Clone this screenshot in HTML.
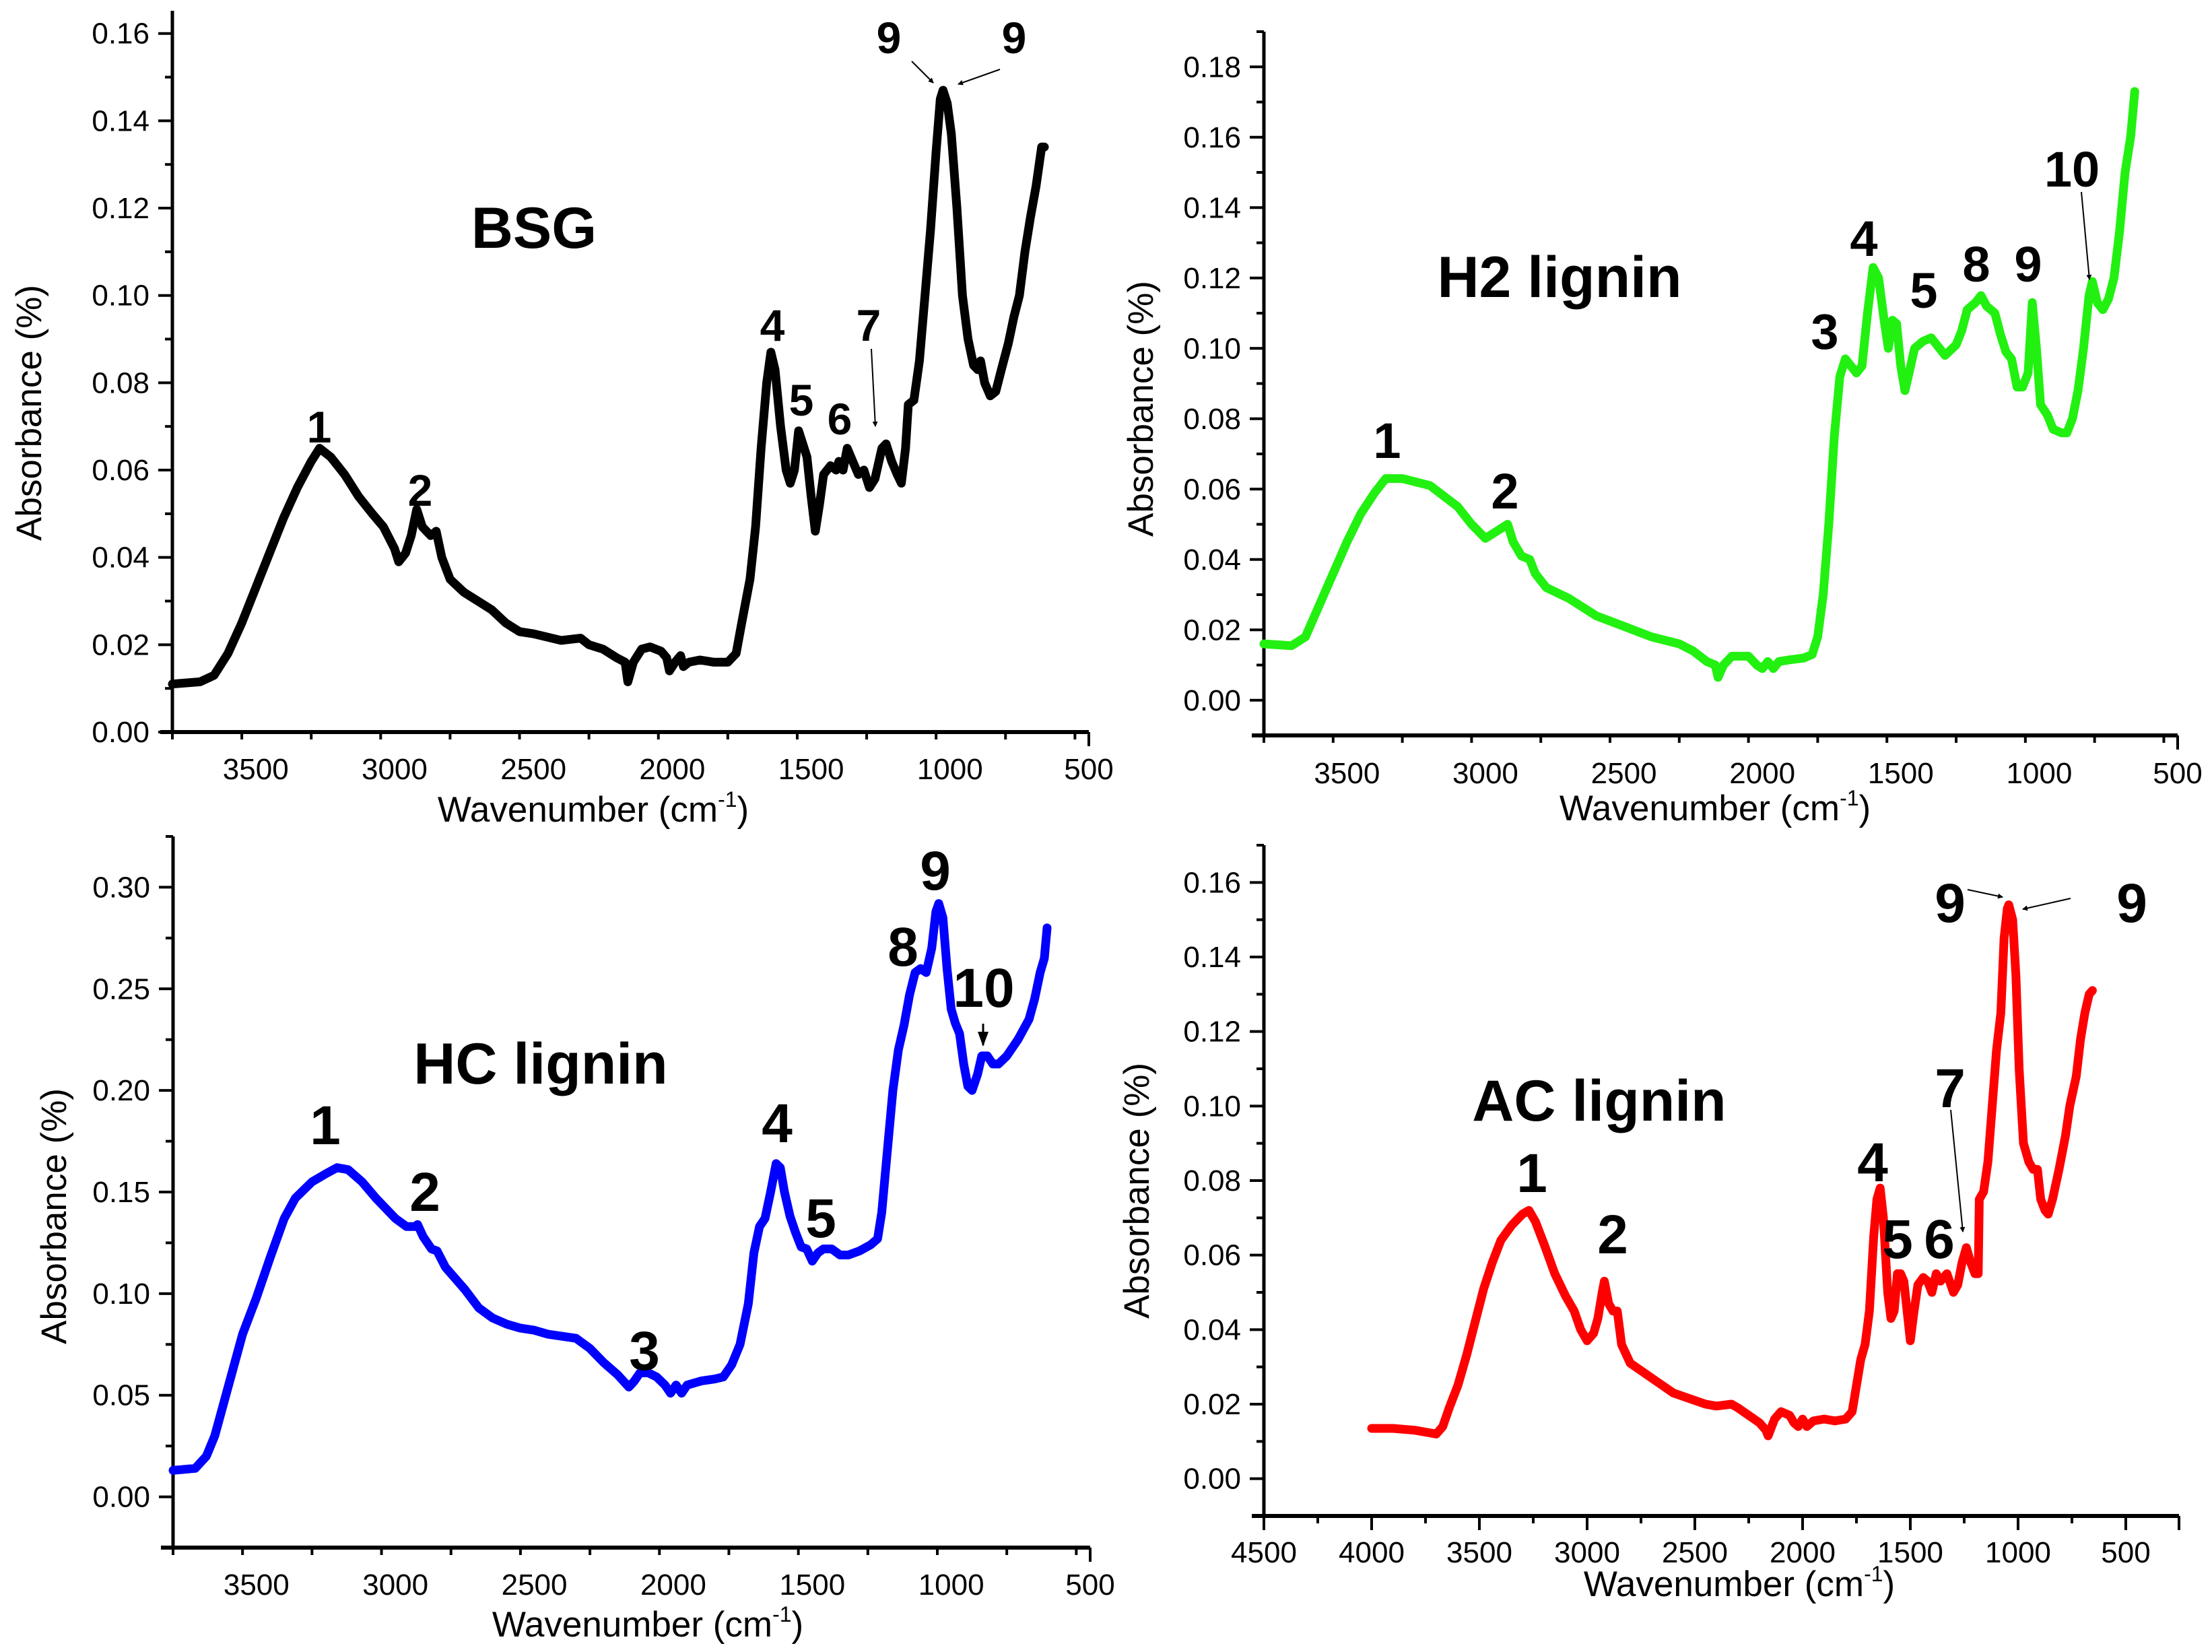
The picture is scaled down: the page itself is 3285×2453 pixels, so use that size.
<!DOCTYPE html>
<html><head><meta charset="utf-8"><style>
html,body{margin:0;padding:0;background:#fff;}
svg{display:block;font-family:"Liberation Sans",Arial,sans-serif;}
</style></head><body>
<svg id="fig" width="3285" height="2453" viewBox="0 0 3285 2453" xmlns="http://www.w3.org/2000/svg">
<defs><marker id="ah" markerWidth="8" markerHeight="8" refX="7" refY="4" orient="auto" markerUnits="userSpaceOnUse"><path d="M0,0 L8,4 L0,8 z" fill="#000"/></marker>
<marker id="ahb" markerWidth="22" markerHeight="16" refX="20" refY="8" orient="auto" markerUnits="userSpaceOnUse"><path d="M0,0 L22,8 L0,16 z" fill="#000"/></marker></defs>
</svg>
<script>
// ---- data (wavenumber cm-1, absorbance) ----
const bsgWavenumber=[3800,3700,3650,3600,3550,3500,3450,3400,3350,3300,3270,3230,3180,3130,3080,3040,3000,2985,2960,2940,2920,2900,2870,2850,2830,2800,2750,2700,2650,2600,2550,2500,2400,2330,2300,2250,2200,2170,2160,2140,2110,2080,2040,2020,2010,1990,1970,1960,1940,1900,1850,1800,1770,1750,1720,1700,1680,1660,1645,1630,1610,1590,1575,1560,1545,1530,1515,1500,1485,1470,1455,1430,1410,1400,1385,1370,1350,1330,1310,1290,1270,1245,1230,1210,1190,1175,1160,1150,1130,1110,1090,1070,1050,1035,1025,1010,995,975,955,935,915,900,890,875,855,835,815,790,770,750,730,710,690,670,660];
const bsgAbsorbance=[0.011,0.0115,0.013,0.018,0.025,0.033,0.041,0.049,0.056,0.062,0.065,0.063,0.059,0.054,0.050,0.047,0.042,0.039,0.041,0.045,0.051,0.047,0.045,0.046,0.040,0.035,0.032,0.030,0.028,0.025,0.023,0.0225,0.021,0.0215,0.020,0.019,0.017,0.016,0.0115,0.016,0.019,0.0195,0.0185,0.017,0.014,0.016,0.0175,0.015,0.016,0.0165,0.016,0.016,0.018,0.025,0.035,0.047,0.065,0.080,0.087,0.083,0.070,0.060,0.057,0.060,0.069,0.066,0.063,0.054,0.046,0.052,0.059,0.061,0.060,0.062,0.060,0.065,0.062,0.059,0.060,0.056,0.058,0.065,0.066,0.062,0.059,0.057,0.065,0.075,0.076,0.085,0.100,0.115,0.133,0.145,0.147,0.144,0.137,0.120,0.100,0.090,0.084,0.083,0.085,0.080,0.077,0.078,0.083,0.089,0.095,0.100,0.110,0.118,0.125,0.134,0.134];

const h2Wavenumber=[3800,3700,3650,3600,3550,3500,3450,3400,3360,3300,3250,3200,3150,3100,3050,3000,2960,2920,2900,2870,2840,2820,2780,2700,2600,2500,2400,2300,2250,2200,2170,2160,2140,2110,2050,2020,2000,1980,1960,1940,1900,1850,1820,1800,1780,1760,1740,1720,1700,1680,1660,1640,1620,1600,1580,1560,1545,1530,1515,1500,1485,1470,1450,1420,1390,1370,1340,1300,1280,1260,1230,1210,1190,1160,1140,1120,1100,1080,1060,1040,1025,1010,995,970,950,920,900,880,860,840,820,808,790,770,750,730,710,690,670,655];
const h2Absorbance=[0.016,0.0155,0.018,0.027,0.036,0.045,0.053,0.059,0.063,0.063,0.062,0.061,0.058,0.055,0.050,0.046,0.048,0.050,0.045,0.041,0.040,0.036,0.032,0.029,0.024,0.021,0.018,0.016,0.014,0.011,0.010,0.0065,0.010,0.0125,0.0125,0.010,0.009,0.011,0.009,0.011,0.0115,0.012,0.013,0.018,0.030,0.050,0.075,0.092,0.097,0.095,0.093,0.095,0.110,0.123,0.120,0.108,0.100,0.108,0.107,0.095,0.088,0.093,0.100,0.102,0.103,0.101,0.098,0.101,0.105,0.111,0.113,0.115,0.112,0.110,0.104,0.099,0.097,0.089,0.089,0.093,0.113,0.100,0.084,0.081,0.077,0.076,0.076,0.080,0.088,0.100,0.115,0.119,0.113,0.111,0.114,0.120,0.133,0.150,0.160,0.173];

const hcWavenumber=[3800,3720,3680,3650,3620,3580,3550,3500,3450,3400,3360,3300,3250,3210,3170,3120,3070,3000,2960,2930,2920,2900,2870,2850,2820,2750,2700,2650,2600,2550,2500,2450,2400,2350,2300,2250,2200,2160,2140,2120,2090,2060,2030,2010,1990,1970,1950,1900,1850,1820,1790,1760,1730,1710,1690,1670,1650,1630,1615,1600,1580,1560,1540,1520,1500,1480,1460,1430,1400,1370,1330,1290,1265,1250,1230,1210,1190,1170,1150,1130,1110,1090,1070,1055,1045,1030,1015,1000,985,970,955,940,925,905,890,870,850,830,800,760,720,700,680,665,655];
const hcAbsorbance=[0.013,0.014,0.020,0.030,0.045,0.065,0.080,0.098,0.118,0.137,0.147,0.155,0.159,0.162,0.161,0.155,0.147,0.137,0.133,0.133,0.134,0.128,0.122,0.121,0.113,0.102,0.093,0.088,0.085,0.083,0.082,0.080,0.079,0.078,0.073,0.066,0.060,0.054,0.057,0.061,0.061,0.059,0.055,0.051,0.055,0.051,0.055,0.057,0.058,0.059,0.065,0.075,0.095,0.120,0.133,0.137,0.150,0.164,0.162,0.150,0.138,0.130,0.123,0.122,0.116,0.120,0.122,0.122,0.119,0.119,0.121,0.124,0.127,0.140,0.170,0.200,0.220,0.232,0.247,0.258,0.260,0.258,0.270,0.288,0.292,0.285,0.260,0.240,0.233,0.228,0.213,0.202,0.200,0.208,0.217,0.217,0.213,0.213,0.217,0.225,0.235,0.245,0.258,0.265,0.280];

const acWavenumber=[4000,3900,3800,3750,3700,3670,3640,3600,3560,3520,3480,3440,3400,3350,3300,3270,3240,3200,3150,3100,3060,3030,3000,2970,2950,2930,2920,2900,2880,2860,2840,2800,2750,2700,2650,2600,2500,2450,2400,2330,2300,2250,2200,2170,2160,2130,2100,2060,2040,2020,2000,1980,1950,1900,1850,1800,1770,1750,1730,1710,1690,1670,1655,1640,1625,1605,1590,1575,1560,1545,1530,1515,1500,1485,1465,1440,1420,1400,1380,1360,1330,1300,1280,1260,1240,1220,1200,1185,1180,1160,1140,1120,1100,1080,1065,1050,1043,1025,1010,995,975,950,930,910,895,875,860,840,810,780,760,730,710,690,670,655];
const acAbsorbance=[0.0135,0.0135,0.013,0.0125,0.012,0.014,0.019,0.025,0.033,0.042,0.051,0.058,0.064,0.068,0.071,0.072,0.069,0.063,0.055,0.049,0.045,0.040,0.037,0.039,0.043,0.050,0.053,0.047,0.045,0.045,0.036,0.031,0.029,0.027,0.025,0.023,0.021,0.020,0.0195,0.020,0.019,0.017,0.015,0.013,0.0115,0.016,0.018,0.017,0.015,0.014,0.016,0.014,0.0155,0.016,0.0155,0.016,0.018,0.025,0.032,0.036,0.045,0.065,0.075,0.078,0.070,0.050,0.043,0.045,0.055,0.055,0.053,0.045,0.037,0.044,0.052,0.054,0.053,0.050,0.055,0.053,0.055,0.050,0.052,0.058,0.062,0.058,0.055,0.055,0.075,0.077,0.085,0.100,0.115,0.125,0.145,0.153,0.154,0.150,0.135,0.110,0.090,0.085,0.083,0.083,0.075,0.072,0.071,0.075,0.083,0.092,0.100,0.108,0.118,0.125,0.130,0.131];

const bsgYTicks=[0,0.02,0.04,0.06,0.08,0.10,0.12,0.14,0.16];
const h2YTicks=[0,0.02,0.04,0.06,0.08,0.10,0.12,0.14,0.16,0.18];
const hcYTicks=[0,0.05,0.10,0.15,0.20,0.25,0.30];
const acYTicks=[0,0.02,0.04,0.06,0.08,0.10,0.12,0.14,0.16];
const xTicksA=[3500,3000,2500,2000,1500,1000,500];
const xTicksB=[4500,4000,3500,3000,2500,2000,1500,1000,500];

const NS='http://www.w3.org/2000/svg';
const svg=document.getElementById('fig');
function mk(tag,attrs,parent){const e=document.createElementNS(NS,tag);for(const k in attrs)e.setAttribute(k,attrs[k]);(parent||svg).appendChild(e);return e;}

function panel(p){
  const g=mk('g',{});
  
  
  const sx=v=>p.px0+(p.wnL-v)/(p.wnL-p.wnR)*(p.px1-p.px0);
  const sy=v=>p.py0-(v-p.ymin)/(p.ymax-p.ymin)*(p.py0-p.py1);
  const ya=mk('line',{x1:p.px0,y1:p.py1,x2:p.px0,y2:p.py0+2,stroke:'#000','stroke-width':5},g);
  
  
  const xa=mk('line',{x1:p.px0-18,y1:p.py0,x2:p.px1,y2:p.py0,stroke:'#000','stroke-width':6},g);
  
  
  const step=p.yt[1]-p.yt[0];
  for(let v=p.ymin;v<=p.ymax+1e-9;v+=step/2){
    const r=Math.round(v/(step/2));
    if(Math.abs(v-r*step/2)>1e-9)continue;
    const isMaj=(r%2===0);
    const y=sy(r*step/2);
    if(y<p.py1-1||y>p.py0+1)continue;
    mk('line',{x1:p.px0-(isMaj?21:11),y1:y,x2:p.px0,y2:y,stroke:'#000','stroke-width':4},g);
  }
  p.yt.forEach(v=>{
    const t=mk('text',{x:p.px0-34,y:sy(v)+15,'text-anchor':'end','font-size':44},g);
    
    
    t.textContent=v.toFixed(2);
  });
  for(let v=p.wnL;v>=p.wnR-1;v-=250){
    const x=sx(v);
    const isMaj=(v%500===0);
    mk('line',{x1:x,y1:p.py0,x2:x,y2:p.py0+(isMaj?21:11),stroke:'#000','stroke-width':4},g);
  }
  mk('line',{x1:p.px1,y1:p.py0,x2:p.px1,y2:p.py0+21,stroke:'#000','stroke-width':4},g);
  p.xt.forEach(v=>{
    const t=mk('text',{x:sx(v),y:p.xlabY,'text-anchor':'middle','font-size':44},g);
    
    
    t.textContent=v;
  });
  const xt=mk('text',{x:p.xtitle[0],y:p.xtitle[1],'text-anchor':'middle','font-size':53},g);
  
  
  xt.appendChild(document.createTextNode('Wavenumber (cm'));
  const sup=mk('tspan',{dy:-22,'font-size':32},xt);sup.textContent='-1';
  const cl=mk('tspan',{dy:22},xt);cl.textContent=')';
  const yt=mk('text',{x:0,y:0,'text-anchor':'middle','font-size':53,transform:`translate(${p.ytitle[0]},${p.ytitle[1]}) rotate(-90)`},g);
  
  
  yt.textContent='Absorbance (%)';
  const d=p.wn.map((w,i)=>(i?'L':'M')+sx(w).toFixed(1)+','+sy(p.ab[i]).toFixed(1)).join(' ');
  const path=mk('path',{d:d,fill:'none',stroke:p.color,'stroke-width':13,'stroke-linejoin':'round','stroke-linecap':'round'},g);
  
  
  const st=mk('text',{x:p.title[0],y:p.title[1],'text-anchor':'middle','font-size':86,'font-weight':'bold'},g);
  
  
  st.textContent=p.titleText;
  p.peaks.forEach(pk=>{
    const t=mk('text',{x:pk[1],y:pk[2],'text-anchor':'middle','font-size':p.pfs,'font-weight':'bold'},g);
    
    
    t.textContent=pk[0];
  });
  p.arrows.forEach(a=>{
    const l=mk('line',{x1:a[0],y1:a[1],x2:a[2],y2:a[3],stroke:'#000','stroke-width':a[4]||2,'marker-end':a[4]?'url(#ahb)':'url(#ah)'},g);
    
    
  });
}

panel({name:'bsg',color:'#000000',wn:bsgWavenumber,ab:bsgAbsorbance,px0:256,px1:1617,wnL:3800,wnR:500,py0:1087,py1:16,ymin:0,ymax:0.1652,yt:bsgYTicks,xt:xTicksA,xlabY:1157,xtitle:[881,1220],ytitle:[61,613],title:[793,368],titleText:'BSG',pfs:66,
 peaks:[['1',474,657],['2',624,751],['4',1147,506],['5',1190,617],['6',1247,645],['7',1290,506],['9',1320,79],['9',1506,79]],
 arrows:[[1294,518,1300,633],[1354,91,1386,123],[1485,103,1423,125]]});
panel({name:'h2-lignin',color:'#22f011',wn:h2Wavenumber,ab:h2Absorbance,px0:1877,px1:3234,wnL:3800,wnR:500,py0:1092,py1:47,ymin:-0.01,ymax:0.19,yt:h2YTicks,xt:xTicksA,xlabY:1163,xtitle:[2547,1218],ytitle:[1712,607],title:[2316,441],titleText:'H2 lignin',pfs:74,
 peaks:[['1',2060,680],['2',2235,755],['3',2710,518],['4',2768,380],['5',2857,457],['8',2935,418],['9',3012,418],['10',3077,277]],
 arrows:[[3091,285,3103,415]]});
panel({name:'hc-lignin',color:'#0000ff',wn:hcWavenumber,ab:hcAbsorbance,px0:257,px1:1619,wnL:3800,wnR:500,py0:2298,py1:1242,ymin:-0.025,ymax:0.325,yt:hcYTicks,xt:xTicksA,xlabY:2368,xtitle:[962,2430],ytitle:[98,1806],title:[803,1609],titleText:'HC lignin',pfs:82,
 peaks:[['1',483,1699],['2',631,1798],['3',957,2034],['4',1154,1696],['5',1219,1837],['8',1341,1434],['9',1389,1321],['10',1461,1495]],
 arrows:[[1460,1520,1460,1552,3]]});
panel({name:'ac-lignin',color:'#ff0000',wn:acWavenumber,ab:acAbsorbance,px0:1877,px1:3236,wnL:4500,wnR:253,py0:2251,py1:1255,ymin:-0.01,ymax:0.17,yt:acYTicks,xt:xTicksB,xlabY:2320,xtitle:[2583,2370],ytitle:[1706,1768],title:[2375,1664],titleText:'AC lignin',pfs:82,
 peaks:[['1',2275,1770],['2',2395,1861],['4',2781,1754],['5',2818,1868],['6',2880,1868],['7',2896,1644],['9',2896,1369],['9',3166,1369]],
 arrows:[[2897,1648,2915,1829],[2922,1321,2974,1332],[3075,1334,3004,1350]]});
</script>
</body></html>
